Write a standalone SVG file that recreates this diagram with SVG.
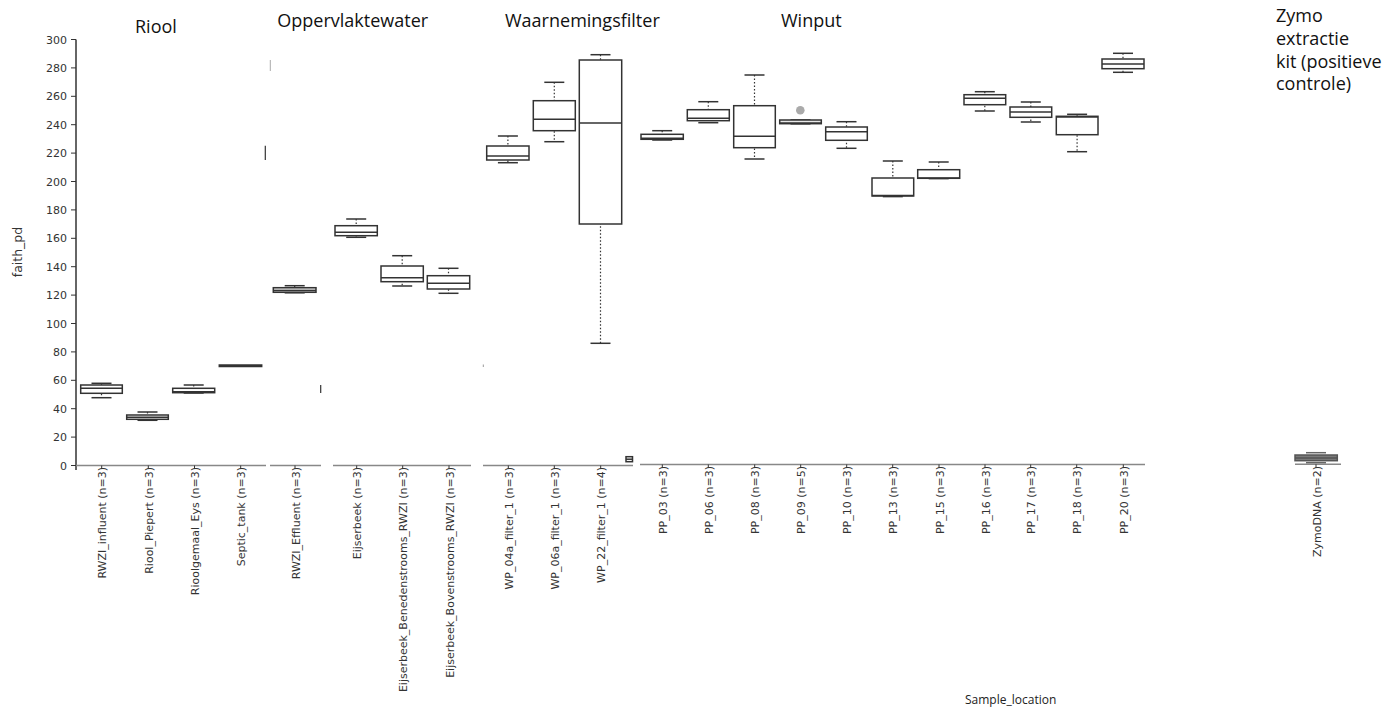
<svg xmlns="http://www.w3.org/2000/svg" width="1400" height="709" viewBox="0 0 1400 709">
<style>
.bx{fill:#fff;stroke:#333;stroke-width:1.5}
.bg{fill:#7a7a7a;stroke:#555;stroke-width:1.5}
.md{stroke:#333;stroke-width:1.5}
.wh{stroke:#333;stroke-width:1.2;stroke-dasharray:1.5 2}
.cp{stroke:#333;stroke-width:1.5}
.ax{stroke:#888;stroke-width:1.5}
.yax{stroke:#333;stroke-width:1.5}
.tk{stroke:#333;stroke-width:1}
.xl{font-family:"DejaVu Sans",sans-serif;font-size:11px;fill:#333}
.yl{font-family:"DejaVu Sans",sans-serif;font-size:11px;fill:#333;text-anchor:end}
.ti{font-family:"Open Sans",sans-serif;font-size:18px;fill:#111}
.at{font-family:"Open Sans",sans-serif;font-size:12px;fill:#222}
</style>
<rect width="1400" height="709" fill="#fff"/>

<g id="titles">
<text class="ti" x="135" y="33.3">Riool</text>
<text class="ti" x="277.3" y="26.7">Oppervlaktewater</text>
<text class="ti" x="505" y="26.7">Waarnemingsfilter</text>
<text class="ti" x="781" y="27">Winput</text>
<text class="ti" x="1276" y="21.7">Zymo</text>
<text class="ti" x="1276" y="44.5">extractie</text>
<text class="ti" x="1276" y="67.5">kit (positieve</text>
<text class="ti" x="1276" y="90">controle)</text>
</g>

<g id="y-axis">
<line class="yax" x1="76" y1="39.5" x2="76" y2="470"/>
<g class="tk">
<line x1="71" y1="465.5" x2="76" y2="465.5"/>
<line x1="71" y1="437.1" x2="76" y2="437.1"/>
<line x1="71" y1="408.7" x2="76" y2="408.7"/>
<line x1="71" y1="380.3" x2="76" y2="380.3"/>
<line x1="71" y1="351.9" x2="76" y2="351.9"/>
<line x1="71" y1="323.5" x2="76" y2="323.5"/>
<line x1="71" y1="295.1" x2="76" y2="295.1"/>
<line x1="71" y1="266.7" x2="76" y2="266.7"/>
<line x1="71" y1="238.3" x2="76" y2="238.3"/>
<line x1="71" y1="209.9" x2="76" y2="209.9"/>
<line x1="71" y1="181.5" x2="76" y2="181.5"/>
<line x1="71" y1="153.1" x2="76" y2="153.1"/>
<line x1="71" y1="124.7" x2="76" y2="124.7"/>
<line x1="71" y1="96.3" x2="76" y2="96.3"/>
<line x1="71" y1="67.9" x2="76" y2="67.9"/>
<line x1="71" y1="39.5" x2="76" y2="39.5"/>
</g>
<text class="yl" x="67" y="469.5">0</text>
<text class="yl" x="67" y="441.1">20</text>
<text class="yl" x="67" y="412.7">40</text>
<text class="yl" x="67" y="384.3">60</text>
<text class="yl" x="67" y="355.9">80</text>
<text class="yl" x="67" y="327.5">100</text>
<text class="yl" x="67" y="299.1">120</text>
<text class="yl" x="67" y="270.7">140</text>
<text class="yl" x="67" y="242.3">160</text>
<text class="yl" x="67" y="213.9">180</text>
<text class="yl" x="67" y="185.5">200</text>
<text class="yl" x="67" y="157.1">220</text>
<text class="yl" x="67" y="128.7">240</text>
<text class="yl" x="67" y="100.3">260</text>
<text class="yl" x="67" y="71.9">280</text>
<text class="yl" x="67" y="43.5">300</text>
<text x="22" y="252" transform="rotate(-90 22 252)" text-anchor="middle" style="font-family:'DejaVu Sans',sans-serif;font-size:12.5px;fill:#333">faith_pd</text>
</g>

<g id="x-axis">
<line class="ax" x1="76" y1="465.5" x2="266" y2="465.5"/>
<line class="ax" x1="270" y1="465.5" x2="321" y2="465.5"/>
<line class="ax" x1="333" y1="465.5" x2="471" y2="465.5"/>
<line class="ax" x1="483" y1="465.5" x2="633" y2="465.5"/>
<line class="ax" x1="640" y1="464.5" x2="1145" y2="464.5"/>
<line class="ax" x1="1295" y1="464.3" x2="1341" y2="464.3"/>
<g class="tk">
<line x1="101.7" y1="465.5" x2="101.7" y2="469"/>
<line x1="148.3" y1="465.5" x2="148.3" y2="469"/>
<line x1="194.5" y1="465.5" x2="194.5" y2="469"/>
<line x1="240.7" y1="465.5" x2="240.7" y2="469"/>
<line x1="295" y1="465.5" x2="295" y2="469"/>
<line x1="356.7" y1="465.5" x2="356.7" y2="469"/>
<line x1="402.7" y1="465.5" x2="402.7" y2="469"/>
<line x1="449" y1="465.5" x2="449" y2="469"/>
<line x1="508.3" y1="465.5" x2="508.3" y2="469"/>
<line x1="554.3" y1="465.5" x2="554.3" y2="469"/>
<line x1="600.7" y1="465.5" x2="600.7" y2="469"/>
<line x1="662.3" y1="464.5" x2="662.3" y2="468"/>
<line x1="708.3" y1="464.5" x2="708.3" y2="468"/>
<line x1="754.7" y1="464.5" x2="754.7" y2="468"/>
<line x1="800.7" y1="464.5" x2="800.7" y2="468"/>
<line x1="846.7" y1="464.5" x2="846.7" y2="468"/>
<line x1="892.7" y1="464.5" x2="892.7" y2="468"/>
<line x1="939" y1="464.5" x2="939" y2="468"/>
<line x1="985" y1="464.5" x2="985" y2="468"/>
<line x1="1030.7" y1="464.5" x2="1030.7" y2="468"/>
<line x1="1076.7" y1="464.5" x2="1076.7" y2="468"/>
<line x1="1123.3" y1="464.5" x2="1123.3" y2="468"/>
<line x1="1316" y1="464.3" x2="1316" y2="468"/>
</g>
<g class="xl" text-anchor="end">
<text transform="translate(106.2 467) rotate(-90)">RWZI_influent (n=3)</text>
<text transform="translate(152.8 467) rotate(-90)">Riool_Piepert (n=3)</text>
<text transform="translate(199 467) rotate(-90)">Rioolgemaal_Eys (n=3)</text>
<text transform="translate(245.2 467) rotate(-90)">Septic_tank (n=3)</text>
<text transform="translate(299.5 467) rotate(-90)">RWZI_Effluent (n=3)</text>
<text transform="translate(361.2 467) rotate(-90)">Eijserbeek (n=3)</text>
<text transform="translate(407.2 467) rotate(-90)">Eijserbeek_Benedenstrooms_RWZI (n=3)</text>
<text transform="translate(453.5 467) rotate(-90)">Eijserbeek_Bovenstrooms_RWZI (n=3)</text>
<text transform="translate(512.8 467) rotate(-90)">WP_04a_filter_1 (n=3)</text>
<text transform="translate(558.8 467) rotate(-90)">WP_06a_filter_1 (n=3)</text>
<text transform="translate(605.2 467) rotate(-90)">WP_22_filter_1 (n=4)</text>
<text transform="translate(666.8 466) rotate(-90)">PP_03 (n=3)</text>
<text transform="translate(712.8 466) rotate(-90)">PP_06 (n=3)</text>
<text transform="translate(759.2 466) rotate(-90)">PP_08 (n=3)</text>
<text transform="translate(805.2 466) rotate(-90)">PP_09 (n=5)</text>
<text transform="translate(851.2 466) rotate(-90)">PP_10 (n=3)</text>
<text transform="translate(897.2 466) rotate(-90)">PP_13 (n=3)</text>
<text transform="translate(943.5 466) rotate(-90)">PP_15 (n=3)</text>
<text transform="translate(989.5 466) rotate(-90)">PP_16 (n=3)</text>
<text transform="translate(1035.2 466) rotate(-90)">PP_17 (n=3)</text>
<text transform="translate(1081.2 466) rotate(-90)">PP_18 (n=3)</text>
<text transform="translate(1127.8 466) rotate(-90)">PP_20 (n=3)</text>
<text transform="translate(1320.5 466) rotate(-90)">ZymoDNA (n=2)</text>
</g>
<text class="at" x="965" y="704">Sample_location</text>
</g>

<g id="marks">
<line x1="270.3" y1="60" x2="270.3" y2="71" stroke="#aaa" stroke-width="1"/>
<line x1="265.3" y1="145.7" x2="265.3" y2="160" stroke="#333" stroke-width="1.2"/>
<line x1="320.7" y1="385" x2="320.7" y2="393" stroke="#333" stroke-width="1.2"/>
<line x1="483.3" y1="364.5" x2="483.3" y2="367" stroke="#999" stroke-width="1"/>
</g>

<g id="box-RWZI_influent">
<line class="wh" x1="101.5" y1="383.3" x2="101.5" y2="397.7"/>
<line class="cp" x1="91.5" y1="383.3" x2="111.5" y2="383.3"/>
<line class="cp" x1="91.5" y1="397.7" x2="111.5" y2="397.7"/>
<rect class="bx" x="80.7" y="385" width="41.6" height="8.3"/>
<line class="md" x1="80.7" y1="388.3" x2="122.3" y2="388.3"/>
</g>
<g id="box-Riool_Piepert">
<line class="wh" x1="147.5" y1="412" x2="147.5" y2="420.3"/>
<line class="cp" x1="137.5" y1="412" x2="157.5" y2="412"/>
<line class="cp" x1="137.5" y1="420.3" x2="157.5" y2="420.3"/>
<rect class="bx" x="126.7" y="415" width="41.6" height="4.3"/>
<line class="md" x1="126.7" y1="417.3" x2="168.3" y2="417.3"/>
</g>
<g id="box-Rioolgemaal_Eys">
<line class="wh" x1="193.7" y1="385" x2="193.7" y2="393"/>
<line class="cp" x1="183.7" y1="385" x2="203.7" y2="385"/>
<line class="cp" x1="183.7" y1="393" x2="203.7" y2="393"/>
<rect class="bx" x="172.7" y="388.3" width="42" height="4.4"/>
<line class="md" x1="172.7" y1="391.8" x2="214.7" y2="391.8"/>
</g>
<g id="box-Septic_tank">
<rect class="bx" x="219.3" y="365" width="42.4" height="1.5"/>
<line class="md" x1="219.3" y1="365.7" x2="261.7" y2="365.7"/>
</g>
<g id="box-RWZI_Effluent">
<line class="wh" x1="294.7" y1="285.7" x2="294.7" y2="292.5"/>
<line class="cp" x1="284.7" y1="285.7" x2="304.7" y2="285.7"/>
<line class="cp" x1="284.7" y1="292.8" x2="304.7" y2="292.8"/>
<rect class="bx" x="273.3" y="287.7" width="42.7" height="4.6" style="fill:#ddd"/>
<line class="md" x1="273.3" y1="290.5" x2="316" y2="290.5"/>
</g>

<g id="box-Eijserbeek">
<line class="wh" x1="356.2" y1="219" x2="356.2" y2="237.3"/>
<line class="cp" x1="346.2" y1="219" x2="366.2" y2="219"/>
<line class="cp" x1="346.2" y1="237.3" x2="366.2" y2="237.3"/>
<rect class="bx" x="335" y="225.7" width="42.3" height="10"/>
<line class="md" x1="335" y1="232.3" x2="377.3" y2="232.3"/>
</g>
<g id="box-Eijserbeek_Benedenstrooms_RWZI">
<line class="wh" x1="402.2" y1="255.7" x2="402.2" y2="286"/>
<line class="cp" x1="392.2" y1="255.7" x2="412.2" y2="255.7"/>
<line class="cp" x1="392.2" y1="286" x2="412.2" y2="286"/>
<rect class="bx" x="381" y="266" width="42.3" height="15.7"/>
<line class="md" x1="381" y1="277.7" x2="423.3" y2="277.7"/>
</g>
<g id="box-Eijserbeek_Bovenstrooms_RWZI">
<line class="wh" x1="448.5" y1="268.3" x2="448.5" y2="293.3"/>
<line class="cp" x1="438.5" y1="268.3" x2="458.5" y2="268.3"/>
<line class="cp" x1="438.5" y1="293.3" x2="458.5" y2="293.3"/>
<rect class="bx" x="427.3" y="275.7" width="42.4" height="13.3"/>
<line class="md" x1="427.3" y1="283.3" x2="469.7" y2="283.3"/>
</g>

<g id="box-WP_04a_filter_1">
<line class="wh" x1="507.9" y1="136" x2="507.9" y2="162.7"/>
<line class="cp" x1="497.9" y1="136" x2="517.9" y2="136"/>
<line class="cp" x1="497.9" y1="162.7" x2="517.9" y2="162.7"/>
<rect class="bx" x="486.7" y="146" width="42.3" height="14"/>
<line class="md" x1="486.7" y1="156" x2="529" y2="156"/>
</g>
<g id="box-WP_06a_filter_1">
<line class="wh" x1="554.3" y1="82.3" x2="554.3" y2="141.7"/>
<line class="cp" x1="544.3" y1="82.3" x2="564.3" y2="82.3"/>
<line class="cp" x1="544.3" y1="141.7" x2="564.3" y2="141.7"/>
<rect class="bx" x="533.3" y="100.7" width="42" height="30"/>
<line class="md" x1="533.3" y1="119.3" x2="575.3" y2="119.3"/>
</g>
<g id="box-WP_22_filter_1">
<line class="wh" x1="600.5" y1="54.7" x2="600.5" y2="343.3"/>
<line class="cp" x1="590.5" y1="54.7" x2="610.5" y2="54.7"/>
<line class="cp" x1="590.5" y1="343.3" x2="610.5" y2="343.3"/>
<rect class="bx" x="579.3" y="60" width="42.4" height="164"/>
<line class="md" x1="579.3" y1="123" x2="621.7" y2="123"/>
</g>
<g id="box-small">
<rect class="bx" x="626" y="456.7" width="6.5" height="5"/>
<line class="md" x1="626" y1="459.2" x2="632.5" y2="459.2"/>
</g>

<g id="box-PP_03">
<line class="wh" x1="662.2" y1="130.7" x2="662.2" y2="140"/>
<line class="cp" x1="652.2" y1="130.7" x2="672.2" y2="130.7"/>
<line class="cp" x1="652.2" y1="140" x2="672.2" y2="140"/>
<rect class="bx" x="641" y="134.3" width="42.3" height="5"/>
<line class="md" x1="641" y1="138.2" x2="683.3" y2="138.2"/>
</g>
<g id="box-PP_06">
<line class="wh" x1="708.3" y1="101.7" x2="708.3" y2="122.7"/>
<line class="cp" x1="698.3" y1="101.7" x2="718.3" y2="101.7"/>
<line class="cp" x1="698.3" y1="122.7" x2="718.3" y2="122.7"/>
<rect class="bx" x="687.3" y="109.7" width="42" height="11"/>
<line class="md" x1="687.3" y1="118.3" x2="729.3" y2="118.3"/>
</g>
<g id="box-PP_08">
<line class="wh" x1="754.5" y1="75" x2="754.5" y2="159"/>
<line class="cp" x1="744.5" y1="75" x2="764.5" y2="75"/>
<line class="cp" x1="744.5" y1="159" x2="764.5" y2="159"/>
<rect class="bx" x="733.7" y="105.7" width="41.6" height="42"/>
<line class="md" x1="733.7" y1="136.3" x2="775.3" y2="136.3"/>
</g>
<g id="box-PP_09">
<circle cx="800.3" cy="110.3" r="4.3" fill="#aaa"/>
<line class="cp" x1="790.5" y1="120" x2="810.5" y2="120"/>
<line class="cp" x1="790.5" y1="123.8" x2="810.5" y2="123.8"/>
<rect class="bx" x="779.7" y="120" width="41.6" height="3.7" style="fill:#e8e8e8"/>
<line class="md" x1="779.7" y1="123" x2="821.3" y2="123"/>
</g>
<g id="box-PP_10">
<line class="wh" x1="846.5" y1="121.7" x2="846.5" y2="148.3"/>
<line class="cp" x1="836.5" y1="121.7" x2="856.5" y2="121.7"/>
<line class="cp" x1="836.5" y1="148.3" x2="856.5" y2="148.3"/>
<rect class="bx" x="825.7" y="127" width="41.6" height="13.3"/>
<line class="md" x1="825.7" y1="131.7" x2="867.3" y2="131.7"/>
</g>
<g id="box-PP_13">
<line class="wh" x1="892.8" y1="161" x2="892.8" y2="196.5"/>
<line class="cp" x1="882.8" y1="161" x2="902.8" y2="161"/>
<line class="cp" x1="882.8" y1="196.6" x2="902.8" y2="196.6"/>
<rect class="bx" x="872" y="178" width="41.7" height="18"/>
<line class="md" x1="872" y1="195.6" x2="913.7" y2="195.6"/>
</g>
<g id="box-PP_15">
<line class="wh" x1="938.7" y1="162" x2="938.7" y2="178.5"/>
<line class="cp" x1="928.7" y1="162" x2="948.7" y2="162"/>
<line class="cp" x1="928.7" y1="178.6" x2="948.7" y2="178.6"/>
<rect class="bx" x="917.7" y="169.7" width="42" height="8.6"/>
<line class="md" x1="917.7" y1="178" x2="959.7" y2="178"/>
</g>
<g id="box-PP_16">
<line class="wh" x1="984.8" y1="91.7" x2="984.8" y2="111"/>
<line class="cp" x1="974.8" y1="91.7" x2="994.8" y2="91.7"/>
<line class="cp" x1="974.8" y1="111" x2="994.8" y2="111"/>
<rect class="bx" x="964" y="94.7" width="41.7" height="10"/>
<line class="md" x1="964" y1="98.3" x2="1005.7" y2="98.3"/>
</g>
<g id="box-PP_17">
<line class="wh" x1="1030.8" y1="102" x2="1030.8" y2="122"/>
<line class="cp" x1="1020.8" y1="102" x2="1040.8" y2="102"/>
<line class="cp" x1="1020.8" y1="122" x2="1040.8" y2="122"/>
<rect class="bx" x="1010" y="107" width="41.7" height="10.3"/>
<line class="md" x1="1010" y1="112" x2="1051.7" y2="112"/>
</g>
<g id="box-PP_18">
<line class="wh" x1="1077.1" y1="114.3" x2="1077.1" y2="151.7"/>
<line class="cp" x1="1067.1" y1="114.3" x2="1087.1" y2="114.3"/>
<line class="cp" x1="1067.1" y1="151.7" x2="1087.1" y2="151.7"/>
<rect class="bx" x="1056.3" y="116.3" width="41.7" height="18.4"/>
<line class="md" x1="1056.3" y1="117" x2="1098" y2="117"/>
</g>
<g id="box-PP_20">
<line class="wh" x1="1123" y1="53.3" x2="1123" y2="72.3"/>
<line class="cp" x1="1113" y1="53.3" x2="1133" y2="53.3"/>
<line class="cp" x1="1113" y1="72.3" x2="1133" y2="72.3"/>
<rect class="bx" x="1102" y="59" width="42" height="9.7"/>
<line class="md" x1="1102" y1="64" x2="1144" y2="64"/>
</g>

<g id="box-ZymoDNA">
<line class="cp" x1="1306" y1="452.7" x2="1326" y2="452.7" style="stroke:#666"/>
<line class="cp" x1="1306" y1="462.7" x2="1326" y2="462.7" style="stroke:#666"/>
<rect class="bg" x="1295" y="455" width="42.3" height="5.7"/>
<line class="md" x1="1295" y1="458" x2="1337.3" y2="458" style="stroke:#555"/>
</g>

<g id="connectors"></g>
</svg>
